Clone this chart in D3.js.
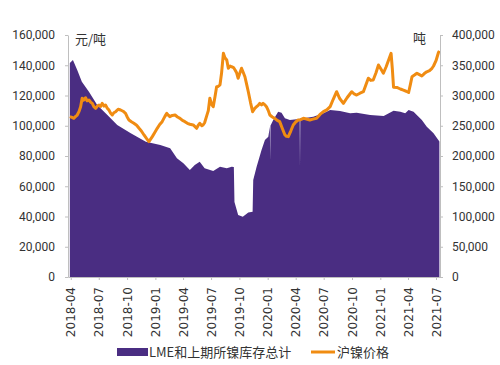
<!DOCTYPE html>
<html><head><meta charset="utf-8">
<script src="https://cdn.jsdelivr.net/npm/d3@7"></script>
<style>
body{margin:0;background:#fff;}
svg{display:block;}
</style></head>
<body><svg id="c" width="500" height="365"></svg>
<script>
const stockDates = ["2018-03-29","2018-04-08","2018-04-22","2018-05-07","2018-05-30","2018-06-26","2018-07-29","2018-08-30","2018-10-13","2018-12-01","2019-01-17","2019-02-18","2019-03-12","2019-04-02","2019-04-23","2019-05-09","2019-05-25","2019-06-10","2019-07-08","2019-07-30","2019-08-21","2019-09-06","2019-09-13","2019-09-15","2019-09-27","2019-10-12","2019-10-30","2019-11-13","2019-11-15","2019-11-26","2019-12-12","2019-12-23","2020-01-03","2020-01-08","2020-01-09","2020-01-10","2020-01-19","2020-02-04","2020-02-15","2020-02-26","2020-03-13","2020-04-04","2020-04-14","2020-04-15","2020-04-16","2020-04-26","2020-05-28","2020-06-30","2020-07-22","2020-08-23","2020-09-25","2020-10-16","2020-11-29","2021-01-12","2021-02-13","2021-03-07","2021-03-23","2021-04-03","2021-04-19","2021-05-16","2021-06-01","2021-06-23","2021-07-12"];
const stockValues = [353700,358700,342000,322800,306300,284300,267800,251200,237500,223600,218200,212700,196200,187900,176900,185100,190600,179700,175200,182300,179700,182300,181800,124000,102500,99700,106600,107900,160300,182300,209900,226400,231900,248400,193000,250000,259500,273200,271600,262300,259500,260700,261500,182000,262000,262300,265000,270600,276000,274400,270600,271600,267800,266100,274900,273200,270600,276000,273200,259500,248400,237500,224000];

const priceDates = ["2018-03-29","2018-04-05","2018-04-11","2018-04-17","2018-04-22","2018-04-28","2018-05-03","2018-05-08","2018-05-13","2018-05-19","2018-05-24","2018-05-30","2018-06-05","2018-06-10","2018-06-15","2018-06-21","2018-06-27","2018-07-02","2018-07-07","2018-07-12","2018-07-18","2018-07-23","2018-07-28","2018-08-03","2018-08-08","2018-08-14","2018-08-19","2018-08-25","2018-09-02","2018-09-10","2018-09-18","2018-09-26","2018-10-01","2018-10-07","2018-10-15","2018-10-23","2018-11-01","2018-11-09","2018-11-17","2018-11-25","2018-12-03","2018-12-11","2018-12-16","2018-12-22","2018-12-30","2019-01-07","2019-01-15","2019-01-23","2019-02-01","2019-02-07","2019-02-12","2019-02-17","2019-02-25","2019-03-06","2019-03-14","2019-03-22","2019-03-30","2019-04-07","2019-04-15","2019-04-23","2019-05-04","2019-05-09","2019-05-15","2019-05-20","2019-05-25","2019-06-01","2019-06-05","2019-06-10","2019-06-16","2019-06-22","2019-06-27","2019-07-03","2019-07-08","2019-07-14","2019-07-19","2019-07-24","2019-07-30","2019-08-04","2019-08-10","2019-08-15","2019-08-21","2019-08-26","2019-09-01","2019-09-06","2019-09-12","2019-09-17","2019-09-22","2019-09-27","2019-10-02","2019-10-08","2019-10-13","2019-10-19","2019-10-25","2019-10-30","2019-11-06","2019-11-13","2019-11-20","2019-11-26","2019-12-01","2019-12-06","2019-12-12","2019-12-17","2019-12-23","2019-12-28","2020-01-03","2020-01-08","2020-01-16","2020-01-24","2020-02-01","2020-02-09","2020-02-17","2020-02-26","2020-03-02","2020-03-08","2020-03-16","2020-03-24","2020-04-01","2020-04-09","2020-04-17","2020-04-26","2020-05-06","2020-05-17","2020-05-27","2020-06-08","2020-06-19","2020-06-30","2020-07-11","2020-07-22","2020-08-01","2020-08-12","2020-08-22","2020-09-03","2020-09-15","2020-09-30","2020-10-08","2020-10-16","2020-10-27","2020-11-07","2020-11-15","2020-11-23","2020-12-01","2020-12-09","2020-12-18","2020-12-26","2021-01-03","2021-01-11","2021-01-20","2021-01-28","2021-02-05","2021-02-09","2021-02-13","2021-02-24","2021-03-07","2021-03-17","2021-03-26","2021-04-03","2021-04-09","2021-04-14","2021-04-22","2021-04-30","2021-05-08","2021-05-16","2021-05-24","2021-06-01","2021-06-10","2021-06-18","2021-06-23","2021-07-01","2021-07-09","2021-07-12"];
const priceValues = [106000,105500,104900,106200,107100,109500,112600,118200,117000,118500,116500,117000,115500,114800,112600,111500,113200,113700,112800,114800,113000,113700,111800,110400,108500,107100,108600,109300,110900,110400,109600,108200,106000,103800,102600,101600,100300,98300,96400,93900,91600,89500,91000,92800,95500,98300,100800,102700,106200,108200,107000,106000,106800,107100,105800,104900,103500,102700,101600,101000,100500,99600,98300,100200,101600,100000,100500,102000,106000,110000,118200,114000,112600,119500,125800,126000,127000,134700,147900,145000,143500,138000,139500,139000,138500,136900,135000,131400,134500,138000,135500,132400,127000,122500,115500,109300,111500,112600,113500,114800,113800,114800,113800,112600,110000,107100,105800,104900,103500,102700,98500,93900,93000,92800,96500,100500,102500,103800,104000,104900,104500,103800,104400,104900,107500,109300,110500,112600,117500,122500,118000,114800,118500,122500,121000,120300,121500,122500,127000,131400,130000,130300,135000,140200,137500,134700,139000,143500,147900,138000,125500,125300,124300,123500,122800,122000,127500,132400,133500,134700,133800,132900,134500,135700,136500,138000,139500,143000,148400,149500];

const xTickLabels = ["2018-04","2018-07","2018-10","2019-01","2019-04","2019-07","2019-10","2020-01","2020-04","2020-07","2020-10","2021-01","2021-04","2021-07"];
const leftTicks = [0,20000,40000,60000,80000,100000,120000,140000,160000];
const rightTicks = [0,50000,100000,150000,200000,250000,300000,350000,400000];
const seriesNames = ["LME和上期所镍库存总计","沪镍价格"];
const unitLeft = "元/吨", unitRight = "吨";

const purple = "#4a2d82", orange = "#f08c12", axisCol = "#bfbfbf", textCol = "#333";
const parse = d3.timeParse("%Y-%m-%d");
const X0 = 68, X1 = 440, Y0 = 277, Y1 = 35;

const svg = d3.select("#c");
const x = d3.scaleTime().domain([parse("2018-03-23"), parse("2021-07-14")]).range([X0, X1]);
const yL = d3.scaleLinear().domain([0,160000]).range([Y0, Y1]);
const yR = d3.scaleLinear().domain([0,400000]).range([Y0, Y1]);

const stock = stockDates.map((d,i)=>({d:parse(d), v:stockValues[i]}));
const price = priceDates.map((d,i)=>({d:parse(d), v:priceValues[i]}));

svg.append("path").datum(stock)
  .attr("fill", purple)
  .attr("d", d3.area().x(p=>x(p.d)).y0(Y0).y1(p=>yR(p.v)));

svg.append("path").datum(price)
  .attr("fill","none").attr("stroke", orange).attr("stroke-width",3).attr("stroke-linejoin","round")
  .attr("d", d3.line().x(p=>x(p.d)).y(p=>yL(p.v)));

const fmt = d3.format(",");
const gL = svg.append("g").attr("transform",`translate(${X0},0)`)
  .call(d3.axisLeft(yL).tickValues(leftTicks).tickFormat(fmt).tickSize(3).tickPadding(10).tickSizeOuter(0));
const gR = svg.append("g").attr("transform",`translate(${X1},0)`)
  .call(d3.axisRight(yR).tickValues(rightTicks).tickFormat(fmt).tickSize(3).tickPadding(9).tickSizeOuter(0));
const xTicks = xTickLabels.map(s=>parse(s+"-01"));
const gX = svg.append("g").attr("transform",`translate(0,${Y0})`)
  .call(d3.axisBottom(x).tickValues(xTicks).tickFormat(d3.timeFormat("%Y-%m")).tickSize(3).tickSizeOuter(0));

[gL,gR,gX].forEach(g=>{
  g.selectAll(".domain").attr("stroke",axisCol);
  g.selectAll(".tick line").attr("stroke",axisCol);
  g.selectAll("text").attr("fill",textCol);
});
gL.selectAll("text").style("font-family","Roboto").style("font-size","12px");
gR.selectAll("text").style("font-family","Roboto").style("font-size","12px");
gX.selectAll("text").style("font-family","DejaVu Sans").style("font-size","12px")
  .attr("transform","rotate(-90)").attr("text-anchor","end").attr("x",-10).attr("y",0).attr("dy","0.35em");

svg.append("text").attr("x",75).attr("y",44).attr("fill",textCol)
  .style("font-family","Noto Sans CJK SC").style("font-size","13px").text(unitLeft);
svg.append("text").attr("x",413).attr("y",43).attr("fill",textCol)
  .style("font-family","Noto Sans CJK SC").style("font-size","13px").text(unitRight);

// legend
const lg = svg.append("g");
lg.append("rect").attr("x",117).attr("y",348).attr("width",31).attr("height",8).attr("fill",purple);
lg.append("text").attr("x",149).attr("y",352).attr("dy","0.35em").attr("fill",textCol)
  .style("font-family","Noto Sans CJK SC").style("font-size","13px").text(seriesNames[0]);
lg.append("line").attr("x1",311).attr("x2",335).attr("y1",352).attr("y2",352).attr("stroke",orange).attr("stroke-width",3);
lg.append("text").attr("x",337).attr("y",352).attr("dy","0.35em").attr("fill",textCol)
  .style("font-family","Noto Sans CJK SC").style("font-size","13px").text(seriesNames[1]);
</script></body></html>
